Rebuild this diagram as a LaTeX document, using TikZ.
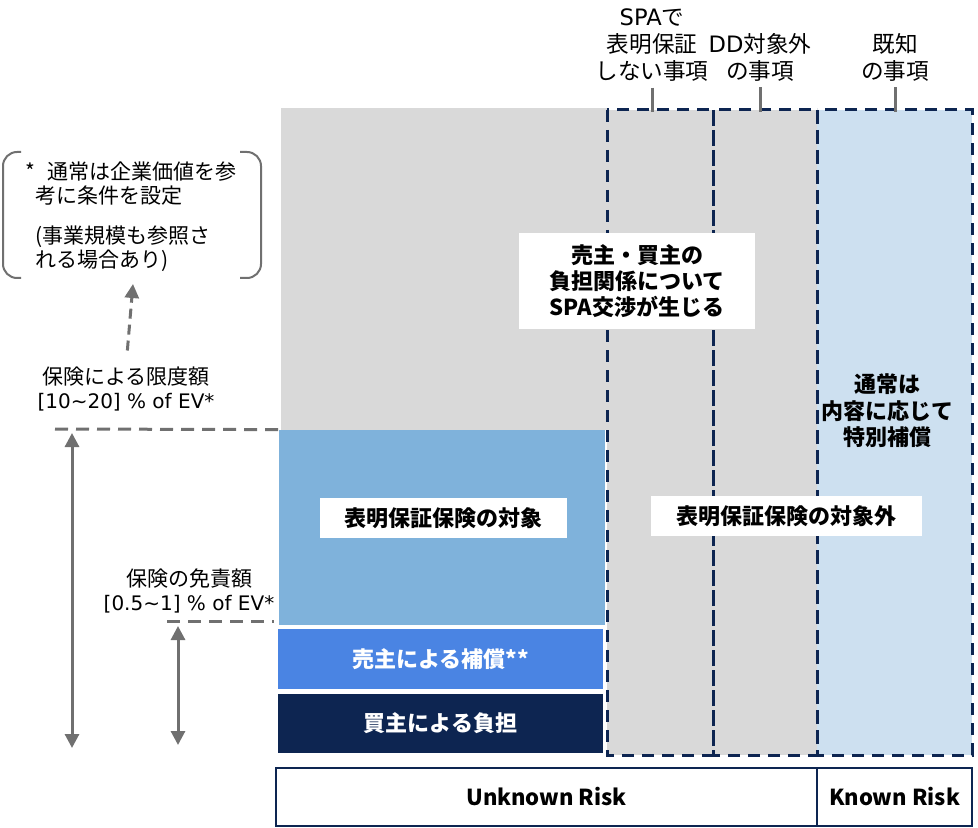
\documentclass[tikz,border=0pt]{standalone}
\usepackage{fontspec}
\setmainfont{Noto Sans CJK JP}
\newfontfamily\latinfont{DejaVu Sans}
\usetikzlibrary{arrows.meta}
\definecolor{panelgray}{HTML}{D9D9D9}
\definecolor{coverblue}{HTML}{7FB2DB}
\definecolor{sellerblue}{HTML}{4A84E3}
\definecolor{navy}{HTML}{0D2551}
\definecolor{knownblue}{HTML}{CDE0F0}
\definecolor{guidegray}{HTML}{707070}
\begin{document}
\begin{tikzpicture}[
  x=0.5pt, y=-0.5pt,
  note/.style={align=center, inner sep=0pt, font=\fontsize{10.5}{12}\selectfont},
  toplabel/.style={align=center, inner sep=0pt, font=\fontsize{11.3}{13.5}\selectfont},
  tag/.style={fill=white, align=center, inner sep=0pt, font=\fontsize{11}{13}\selectfont\bfseries},
  band/.style={inner sep=0pt, minimum width=162.5pt, text=white, font=\fontsize{11}{13}\selectfont\bfseries},
  risk/.style={draw=navy, line width=1pt, inner sep=0pt, minimum height=29pt, font=\fontsize{11}{13}\selectfont\bfseries},
  column/.style={draw=navy, line width=1.5pt, dash pattern=on 6pt off 4pt},
  guide/.style={draw=guidegray, line width=1.5pt, dash pattern=on 6.5pt off 4pt},
  span/.style={draw=guidegray, line width=1.5pt, {Triangle[length=7pt,width=7pt]}-{Triangle[length=7pt,width=7pt]}},
  tick/.style={draw=guidegray, line width=1.5pt},
  bracket/.style={draw=guidegray, line width=1pt, rounded corners=7pt}
]
\useasboundingbox (0,0) rectangle (978,828);

% background panels
\fill[panelgray] (281,108) rectangle (607,430);
\fill[panelgray] (607,110) rectangle (817,755);
\fill[knownblue] (817,110) rectangle (972,755);
\draw[column] (607,110) rectangle (713,755);
\draw[column] (713,110) rectangle (817,755);
\draw[column] (817,110) rectangle (972,755);

% bands on the left column
\node[fill=coverblue, inner sep=0pt, minimum width=163pt, minimum height=97.5pt] (cover) at (442,527.5) {};
\node[band, fill=sellerblue, minimum height=30pt] (seller) at (440.5,659) {売主による補償**};
\node[band, fill=navy, minimum height=29.5pt] (buyer) at (440.5,723.5) {買主による負担};

% white tags
\node[tag, minimum width=118pt, minimum height=48pt] (nego) at (637,281) {売主・買主の\\負担関係について\\SPA交渉が生じる};
\node[tag, minimum width=123.5pt, minimum height=20pt] (insured) at (443,518) {表明保証保険の対象};
\node[tag, minimum width=135.5pt, minimum height=20pt] (excluded) at (786,516) {表明保証保険の対象外};
\node[align=center, inner sep=0pt, font=\fontsize{11}{13.2}\selectfont\bfseries] (special) at (887,411) {通常は\\内容に応じて\\特別補償};

% labels over the columns
\node[toplabel] (spa) at (652,45) {{\latinfont SPA}で\\表明保証\\しない事項};
\node[toplabel] (dd) at (760,57) {{\latinfont DD}対象外\\の事項};
\node[toplabel] (known) at (895,57) {既知\\の事項};
\coordinate (spatop) at (652,112);
\coordinate (ddtop) at (760,112);
\coordinate (knowntop) at (895,112);
\draw[tick] ([yshift=-3pt]spa.south) -- (spatop);
\draw[tick] ([yshift=-3pt]dd.south) -- (ddtop);
\draw[tick] ([yshift=-3pt]known.south) -- (knowntop);

% note in brackets
\draw[bracket] (21,152) -- (3,152) -- (3,278) -- (21,278);
\draw[bracket] (240,152) -- (261,152) -- (261,278) -- (240,278);
\node[note, anchor=west, align=left] (cap1) at (25,184) {*\hspace{6pt}通常は企業価値を参\\\hspace*{5pt}考に条件を設定};
\node[note, anchor=west, align=left] (cap2) at (35,248.5) {(事業規模も参照さ\\れる場合あり)};
\coordinate (capbot) at (133,284);

% limit and deductible
\node[note] (lim) at (126,389) {保険による限度額\\{\latinfont\fontsize{10}{12}\selectfont [10\textasciitilde20] \% of EV*}};
\draw[guide, dash pattern=on 5pt off 3pt, -{Triangle[length=7pt,width=7pt]}, shorten <=8pt] (lim.north) -- (capbot);
\coordinate (limL) at (55,429);
\draw[guide] (limL) -- (cover.north west);
\coordinate (limtop) at (72,433);
\coordinate (limbot) at (72,748);
\draw[span] (limtop) -- (limbot);

\node[note] (ded) at (189,591) {保険の免責額\\{\latinfont\fontsize{10}{12}\selectfont [0.5\textasciitilde1] \% of EV*}};
\coordinate (dedL) at (167,621);
\coordinate (dedR) at (274,621);
\draw[guide] (dedL) -- (dedR);
\coordinate (dedtop) at (178,626);
\coordinate (dedbot) at (178,745);
\draw[span] (dedtop) -- (dedbot);

% risk row
\node[risk, minimum width=270.5pt] (unknownrisk) at (546.5,797) {Unknown Risk};
\node[risk, minimum width=77.5pt] (knownrisk) at (894.5,797) {Known Risk};
\end{tikzpicture}
\end{document}
